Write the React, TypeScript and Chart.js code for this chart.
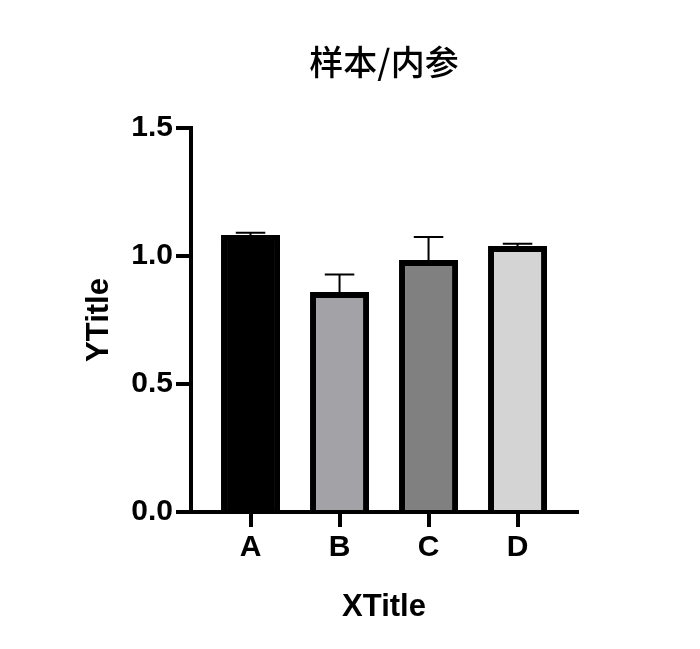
import React, { useEffect, useRef } from "react";
import { Chart, registerables } from "chart.js";

Chart.register(...registerables);

const categories = ["A", "B", "C", "D"];
const means = [1.082, 0.859, 0.984, 1.039];
const errorsUp = [0.009, 0.069, 0.09, 0.009];
const barColors = ["#000000", "#A3A3A7", "#808080", "#D4D4D4"];
const yTicks = [0, 0.5, 1.0, 1.5];
const chartTitle = "样本/内参";
const xTitle = "XTitle";
const yTitle = "YTitle";

const errorBarPlugin = {
  id: "errorBars",
  afterDatasetsDraw(chart: any) {
    const ctx = chart.ctx;
    const xScale = chart.scales.x;
    const yScale = chart.scales.y;
    const meta = chart.getDatasetMeta(0);
    ctx.save();
    ctx.strokeStyle = "#000";
    ctx.lineWidth = 2;
    means.forEach((m, i) => {
      const x = xScale.getPixelForValue(i);
      const yBase = yScale.getPixelForValue(m);
      const yTop = yScale.getPixelForValue(m + errorsUp[i]);
      const half = (meta.data[i].width || 59) * 0.25;
      ctx.beginPath();
      ctx.moveTo(x, yBase);
      ctx.lineTo(x, yTop);
      ctx.moveTo(x - half, yTop);
      ctx.lineTo(x + half, yTop);
      ctx.stroke();
    });
    ctx.restore();
  },
};

export default function App() {
  const ref = useRef<HTMLCanvasElement | null>(null);
  useEffect(() => {
    if (!ref.current) return;
    const fontFam = "'Liberation Sans', Arial, sans-serif";
    const chart = new Chart(ref.current, {
      type: "bar",
      data: {
        datasets: [
          {
            data: categories.map((c, i) => ({ x: i, y: means[i] })),
            backgroundColor: barColors,
            borderColor: "#000",
            borderWidth: 6,
            categoryPercentage: 1,
            barPercentage: 0.663,
          },
        ],
      },
      options: {
        responsive: false,
        animation: false,
        events: [],
        layout: { padding: { left: 0, right: 123, top: 0, bottom: 0 } },
        plugins: {
          legend: { display: false },
          tooltip: { enabled: false },
          title: {
            display: true,
            text: chartTitle,
            fullSize: false,
            color: "#000",
            font: { family: "'Noto Sans CJK SC', sans-serif", size: 34, weight: "500", lineHeight: 1.2 },
            padding: { top: 41.6, bottom: 45.6 },
          },
        },
        scales: {
          x: {
            type: "linear",
            min: -0.669,
            max: 3.668,
            offset: false,
            afterBuildTicks: (scale: any) => {
              scale.ticks = categories.map((c, i) => ({ value: i }));
            },
            afterFit: (scale: any) => {
              scale.height = 137;
            },
            ticks: {
              color: "#000",
              padding: 3,
              font: { family: fontFam, size: 30, weight: "bold" },
              callback: (v: any) => categories[Math.round(v)] ?? "",
              maxRotation: 0,
              autoSkip: false,
            },
            grid: {
              offset: false,
              drawOnChartArea: false,
              drawTicks: true,
              tickLength: 15,
              lineWidth: 4,
              color: "#000",
            },
            border: { display: true, width: 4, color: "#000" },
            title: {
              display: true,
              text: xTitle,
              color: "#000",
              font: { family: fontFam, size: 31, weight: "bold", lineHeight: 1.2 },
              padding: { top: 0, bottom: 23 },
            },
          },
          y: {
            type: "linear",
            min: 0,
            max: 1.5,
            afterBuildTicks: (scale: any) => {
              scale.ticks = yTicks.map((v) => ({ value: v }));
            },
            afterFit: (scale: any) => {
              scale.width = 191;
            },
            ticks: {
              color: "#000",
              padding: 3,
              font: { family: fontFam, size: 30, weight: "bold" },
              callback: (v: any) => Number(v).toFixed(1),
            },
            grid: {
              drawOnChartArea: false,
              drawTicks: true,
              tickLength: 15,
              lineWidth: 4,
              color: "#000",
            },
            border: { display: true, width: 4, color: "#000" },
            title: {
              display: true,
              text: yTitle,
              color: "#000",
              font: { family: fontFam, size: 31, weight: "bold", lineHeight: 1.2 },
              padding: { top: 81, bottom: 0 },
            },
          },
        },
      },
      plugins: [errorBarPlugin],
    } as any);
    return () => chart.destroy();
  }, []);
  return (
    <div style={{ position: "absolute", left: 0, top: 0, width: 700, height: 649, background: "#fff" }}>
      <canvas ref={ref} width={700} height={649} />
    </div>
  );
}
